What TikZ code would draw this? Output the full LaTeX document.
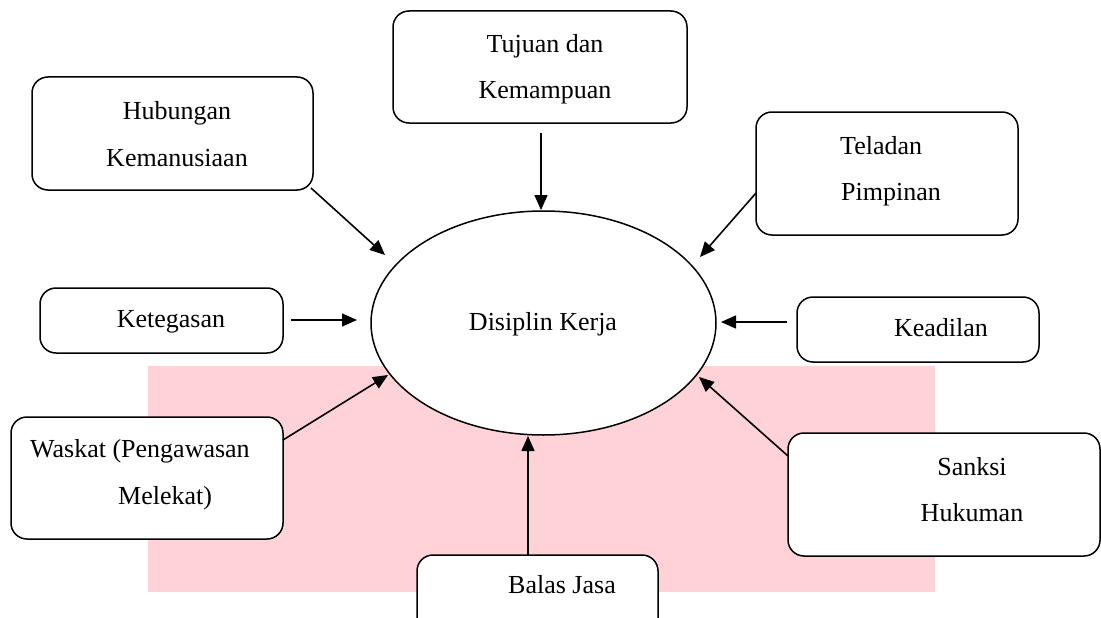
\documentclass[tikz,border=0pt]{standalone}
\usepackage{fontspec}
\setmainfont{Liberation Serif}
\usetikzlibrary{arrows.meta,shapes.geometric}
\definecolor{wmpink}{RGB}{254,210,214}
\tikzset{
  box/.style={draw, line width=1.5pt, rounded corners=16pt, fill=white, inner sep=0pt},
  lbl/.style={anchor=base, inner sep=0pt, font=\fontsize{26}{30}\selectfont},
  lbll/.style={anchor=base west, inner sep=0pt, font=\fontsize{26}{30}\selectfont},
  arr/.style={line width=1.6pt, -{Triangle[length=15pt,width=13pt]}}
}
\begin{document}
\begin{tikzpicture}[x=1pt,y=-1pt]
\useasboundingbox (0,0) rectangle (1101,618);
\fill[white] (0,0) rectangle (1101,618);
% watermark
\fill[wmpink] (148,366) rectangle (935,592);
% central ellipse
\node[draw, ellipse, line width=1.5pt, fill=white, minimum width=345pt, minimum height=224pt, inner sep=0pt] (ell) at (543.5,323) {};
\node[lbl] (tdis) at (543,330) {Disiplin Kerja};
% boxes
\node[box, minimum width=294pt, minimum height=112pt] (tuj) at (540,67) {};
\node[box, minimum width=281pt, minimum height=113pt] (hub) at (172.5,133.5) {};
\node[box, minimum width=243pt, minimum height=65pt] (ket) at (161.5,320.5) {};
\node[box, minimum width=262pt, minimum height=123pt] (tel) at (887,173.5) {};
\node[box, minimum width=242pt, minimum height=65pt] (kea) at (918,329.5) {};
\node[box, minimum width=272pt, minimum height=122pt] (was) at (147,478) {};
\node[box, minimum width=241pt, minimum height=85pt] (bal) at (537.5,597.5) {};
\node[box, minimum width=312pt, minimum height=123pt] (san) at (944,494.5) {};
% texts
\node[lbl] (t1a) at (545,53) {Tujuan dan};
\node[lbl] (t1b) at (545,99) {Kemampuan};
\node[lbl] (t2a) at (177,120) {Hubungan};
\node[lbl] (t2b) at (177,166) {Kemanusiaan};
\node[lbl] (t3) at (171,327) {Ketegasan};
\node[lbll] (t4a) at (840,154) {Teladan};
\node[lbll] (t4b) at (841,200) {Pimpinan};
\node[lbl] (t5) at (941,336) {Keadilan};
\node[lbll] (t6a) at (30,457) {Waskat (Pengawasan};
\node[lbll] (t6b) at (118,504) {Melekat)};
\node[lbl] (t7) at (562,593) {Balas Jasa};
\node[lbl] (t8a) at (972,475) {Sanksi};
\node[lbl] (t8b) at (972,521) {Hukuman};
% connector ends
\coordinate (tujS) at (541,133);   \coordinate (tujE) at (541,210);
\coordinate (hubS) at (311,188);   \coordinate (hubE) at (385,255);
\coordinate (ketS) at (291,320);   \coordinate (ketE) at (357,320);
\coordinate (telS) at (756,193);   \coordinate (telE) at (700,257);
\coordinate (keaS) at (787,322);   \coordinate (keaE) at (721,322);
\coordinate (wasS) at (283,440);   \coordinate (wasE) at (388,375);
\coordinate (balS) at (528,555);   \coordinate (balE) at (528,436);
\coordinate (sanS) at (788,456);   \coordinate (sanE) at (699,377);
\draw[arr] (tujS) -- (tujE);
\draw[arr] (hubS) -- (hubE);
\draw[arr] (ketS) -- (ketE);
\draw[arr] (telS) -- (telE);
\draw[arr] (keaS) -- (keaE);
\draw[arr] (wasS) -- (wasE);
\draw[arr] (balS) -- (balE);
\draw[arr] (sanS) -- (sanE);
\end{tikzpicture}
\end{document}
